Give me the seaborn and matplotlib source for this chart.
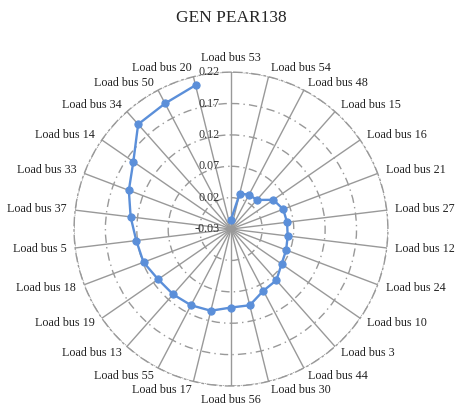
import numpy as np
import matplotlib
import matplotlib.pyplot as plt
import matplotlib.transforms as mtransforms
import seaborn as sns

# buses clockwise from the top
buses = [
    "Load bus 53", "Load bus 54", "Load bus 48", "Load bus 15", "Load bus 16",
    "Load bus 21", "Load bus 27", "Load bus 12", "Load bus 24", "Load bus 10",
    "Load bus 3", "Load bus 44", "Load bus 30", "Load bus 56", "Load bus 17",
    "Load bus 55", "Load bus 13", "Load bus 19", "Load bus 18", "Load bus 5",
    "Load bus 37", "Load bus 33", "Load bus 14", "Load bus 34", "Load bus 50",
    "Load bus 20",
]
values = [
    -0.015, 0.028, 0.032, 0.032, 0.052,
    0.059, 0.060, 0.061, 0.064, 0.068,
    0.079, 0.081, 0.095, 0.095, 0.104,
    0.107, 0.109, 0.111, 0.119, 0.122,
    0.131, 0.144, 0.159, 0.193, 0.196,
    0.206,
]
rticks = [-0.03, 0.02, 0.07, 0.12, 0.17, 0.22]

sns.set_style("white")
plt.rcParams["font.family"] = ["Liberation Serif", "DejaVu Serif"]

theta = np.linspace(0, 2 * np.pi, len(buses), endpoint=False)
theta_closed = np.append(theta, theta[0])
values_closed = values + values[:1]

fig = plt.figure(figsize=(4.59, 4.05), dpi=100)
ax = fig.add_axes([0.1612, 0.0469, 0.684, 0.775], projection="polar")
ax.set_theta_zero_location("N")
ax.set_theta_direction(-1)

sns.lineplot(x=theta_closed, y=values_closed, ax=ax, sort=False,
             color="#5B8FD9", linewidth=1.7, marker="o", markersize=5.2,
             markeredgecolor="#5B8FD9", zorder=5)

ax.set_ylim(rticks[0], rticks[-1])
ax.set_yticks(rticks)
ax.set_yticklabels([])
ax.set_xticks(theta)
ax.set_xticklabels([])

ax.xaxis.grid(True, color="#999999", linewidth=1.0, linestyle="-")
ax.yaxis.grid(True, color="#999999", linewidth=1.0, linestyle=(0, (6, 3, 1, 3)))
ax.spines["polar"].set_color("#999999")
ax.spines["polar"].set_linewidth(1.0)
ax.spines["polar"].set_linestyle((0, (6, 3, 1, 3)))

# category labels just outside the outer ring
for t, name in zip(theta, buses):
    s, c = np.sin(t), np.cos(t)
    d = 14 if abs(c) > 0.99 else 8.5
    if s > 0.1:
        ha = "left"
    elif s < -0.1:
        ha = "right"
    else:
        ha = "center"
    tr = mtransforms.offset_copy(ax.transData, fig=fig, x=d * s, y=d * c, units="dots")
    ax.text(t, rticks[-1], name, transform=tr, ha=ha, va="center",
            fontsize=8.7, color="#222222")

off = mtransforms.offset_copy(ax.transData, fig=fig, x=-11, y=0, units="dots")
for v in rticks:
    ax.text(0, v, f"{v:.2f}", transform=off, ha="right", va="center",
            fontsize=8.7, color="#333333")

fig.text(0.503, 0.955, "GEN PEAR138", ha="center", va="center", fontsize=12.5)

fig.savefig("out.png", dpi=100)
